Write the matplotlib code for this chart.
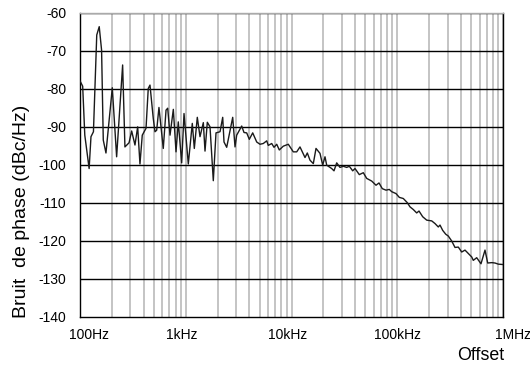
import matplotlib
matplotlib.use("Agg")
import matplotlib.pyplot as plt
import matplotlib.transforms as mtransforms
from matplotlib.ticker import FixedLocator, NullFormatter
import numpy as np

# Offset frequency (Hz)
freq = [100, 106, 111, 122, 127, 134, 144, 152, 160, 166, 176, 202, 222, 253, 266,
        291, 308, 331, 351, 369, 388, 421, 442, 459, 493, 512, 531, 558, 613, 651,
        675, 710, 763, 809, 850, 915, 963, 1057, 1153, 1205, 1286, 1364, 1466, 1521,
        1599, 1696, 1822, 1932, 2109, 2236, 2300, 2439, 2780, 2923, 3032, 3381, 3555,
        3771, 3990, 4297, 4688, 5036, 5409, 5830, 6033, 6500, 6833, 7249, 7667, 8366,
        9327, 10400, 11200, 12030, 13420, 14110, 14960, 16080, 17050, 18600, 19720,
        20740, 21520, 23990, 25230, 26760, 28740, 30890, 33270, 35210, 37900, 39860,
        43770, 47750, 51420, 57340, 62970, 67210, 72220, 78290, 84110, 88630, 97310,
        104600, 114100, 124500, 132000, 141800, 152700, 160600, 174000, 189900,
        211800, 227500, 244400, 253700, 269000, 287200, 304000, 327300, 351700,
        377800, 406900, 437200, 469700, 505800, 523700, 564000, 619400, 675800,
        716700, 782100, 840300, 902800, 1000000]
# Phase noise (dBc/Hz)
noise = [-77.9, -79.3, -92.2, -101.0, -92.6, -91.3, -65.8, -63.6, -69.8, -93.5, -96.9,
         -79.7, -97.9, -73.7, -95.3, -94.2, -91.1, -94.8, -90.0, -99.8, -92.2, -90.4,
         -79.9, -79.0, -87.8, -91.3, -90.9, -84.9, -95.7, -85.6, -85.1, -92.2, -85.4,
         -96.6, -88.7, -99.5, -86.5, -99.8, -89.1, -95.7, -87.5, -92.6, -88.9, -96.4,
         -88.8, -90.0, -104.2, -91.6, -91.3, -87.5, -94.0, -95.4, -87.5, -95.3, -92.2,
         -89.8, -91.5, -91.6, -93.3, -91.6, -94.0, -94.6, -94.4, -93.7, -94.9, -94.4,
         -95.4, -94.6, -96.1, -95.1, -94.6, -96.6, -96.6, -95.3, -98.1, -96.9, -98.8,
         -99.7, -95.7, -97.0, -100.1, -97.9, -100.1, -101.0, -101.6, -99.5, -100.7,
         -100.4, -100.7, -100.4, -101.6, -101.0, -102.6, -102.1, -103.6, -104.3,
         -105.4, -104.8, -106.3, -106.7, -106.5, -107.1, -107.6, -108.6, -108.9,
         -110.0, -111.1, -111.8, -112.7, -112.2, -113.7, -114.6, -114.8, -115.5,
         -116.4, -115.9, -117.3, -118.3, -118.8, -120.1, -121.8, -121.7, -123.0,
         -122.5, -123.4, -124.3, -125.2, -124.5, -126.1, -122.5, -125.9, -125.8,
         -125.9, -126.2, -126.3]

x_ticks = [100, 1000, 10000, 100000, 1000000]
x_labels = ["100Hz", "1kHz", "10kHz", "100kHz", "1MHz"]
y_ticks = [-140, -130, -120, -110, -100, -90, -80, -70, -60]
y_labels = ["-140", "-130", "-120", "-110", "-100", "-90", "-80", "-70", "-60"]

plt.rcParams['font.family'] = ['Liberation Sans', 'DejaVu Sans']

fig = plt.figure(figsize=(5.30, 3.65), dpi=100)
ax = fig.add_axes([80/530, 1-316.5/365, 423/530, 303.5/365])

ax.set_xscale('log')
ax.set_xlim(100, 1e6)
ax.set_ylim(-140, -60)

# vertical gray grid at every 1..9 x decade
minor = [m * 10**e for e in range(2, 6) for m in range(1, 10)] + [1e6]
for v in minor:
    ax.axvline(v, color='#c4c4c4', lw=1.4, zorder=1)
for v in y_ticks[1:]:
    ax.axhline(v, color='black', lw=1.0, zorder=2)

ax.plot(freq, noise, color='#1a1a1a', lw=1.0, zorder=3)

ax.xaxis.set_minor_locator(FixedLocator([]))
ax.xaxis.set_minor_formatter(NullFormatter())
ax.set_xticks(x_ticks)
ax.set_xticklabels(x_labels)
ax.set_yticks(y_ticks)
ax.set_yticklabels(y_labels)
ax.tick_params(axis='both', length=0, labelsize=10, colors='black')
ax.tick_params(axis='x', pad=8)
ax.tick_params(axis='y', pad=10)

# small horizontal shifts of x tick labels as in the reference
shifts = [9, -4, -4, 0, 10]
for lab, dx in zip(ax.get_xticklabels(), shifts):
    lab.set_transform(lab.get_transform() +
                      mtransforms.ScaledTranslation(dx / 100, 0, fig.dpi_scale_trans))

for sp in ['left', 'bottom', 'right']:
    ax.spines[sp].set_color('black')
    ax.spines[sp].set_linewidth(1.0)
ax.spines['top'].set_color('#aaaaaa')
ax.spines['top'].set_linewidth(1.0)

ax.set_ylabel("Bruit  de phase (dBc/Hz)", fontsize=14)
ax.yaxis.set_label_coords(-0.118, 0.345)
fig.text(504/530, 1-355/365, "Offset", fontsize=12.8, ha='right', va='center')

fig.savefig("out.png", dpi=100, facecolor='white')
